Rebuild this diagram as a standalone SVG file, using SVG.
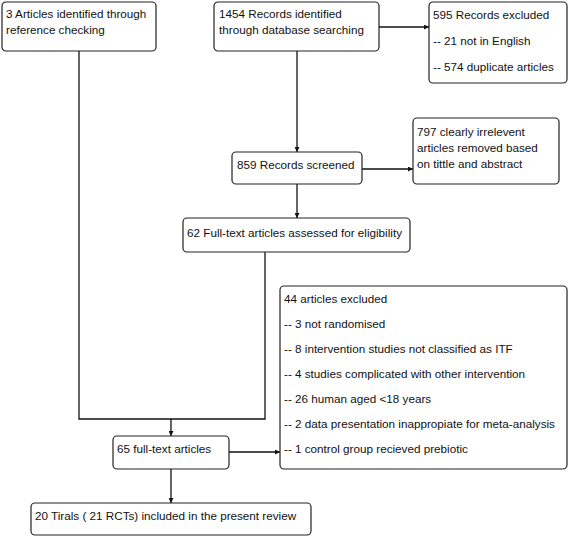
<svg xmlns="http://www.w3.org/2000/svg" width="575" height="538" viewBox="0 0 575 538">
<style>
.box{fill:#fff;stroke:#222;stroke-width:1.2}
text{font-family:"Liberation Sans",Arial,sans-serif;font-size:11.7px;fill:#111}
.ln{fill:none;stroke:#111;stroke-width:1.3}
</style>
<defs>
<marker id="ah" viewBox="0 0 8 8" refX="8" refY="4" markerWidth="5" markerHeight="5" orient="auto" markerUnits="userSpaceOnUse">
<path d="M0,0 L8,4 L0,8 z" fill="#111"/>
</marker>
</defs>
<rect width="575" height="538" fill="#fff"/>
<g id="connectors">
<line class="ln" x1="379" y1="27" x2="429" y2="27" marker-end="url(#ah)"/>
<line class="ln" x1="297" y1="51" x2="297" y2="152" marker-end="url(#ah)"/>
<line class="ln" x1="362" y1="169" x2="413" y2="169" marker-end="url(#ah)"/>
<line class="ln" x1="297" y1="184" x2="297" y2="218" marker-end="url(#ah)"/>
<polyline class="ln" points="79,51 79,419 265,419 265,252"/>
<line class="ln" x1="171" y1="419" x2="171" y2="436" marker-end="url(#ah)"/>
<line class="ln" x1="229" y1="452" x2="280" y2="452" marker-end="url(#ah)"/>
<line class="ln" x1="171" y1="469" x2="171" y2="503" marker-end="url(#ah)"/>
</g>
<g id="n1"><rect class="box" x="2" y="2" width="154" height="49" rx="4"/>
<text x="6" y="18">3 Articles identified through</text><text x="6" y="34">reference checking</text></g>
<g id="n2"><rect class="box" x="214" y="2" width="165" height="49" rx="4"/>
<text x="219" y="18">1454 Records identified</text><text x="219" y="34">through database searching</text></g>
<g id="n3"><rect class="box" x="429" y="2" width="138" height="81" rx="4"/>
<text x="433" y="19">595 Records excluded</text><text x="433" y="45">-- 21 not in English</text><text x="433" y="71">-- 574 duplicate articles</text></g>
<g id="n4"><rect class="box" x="413" y="118" width="146" height="66" rx="4"/>
<text x="417" y="136">797 clearly irrelevent</text><text x="417" y="152">articles removed based</text><text x="417" y="168">on tittle and abstract</text></g>
<g id="n5"><rect class="box" x="232" y="152" width="130" height="32" rx="4"/>
<text x="237" y="169">859 Records screened</text></g>
<g id="n6"><rect class="box" x="183" y="218" width="227" height="34" rx="4"/>
<text x="187" y="237">62 Full-text articles assessed for eligibility</text></g>
<g id="n7"><rect class="box" x="280" y="286" width="287" height="183" rx="4"/>
<text x="284" y="303">44 articles excluded</text>
<text x="284" y="328">-- 3 not randomised</text>
<text x="284" y="353">-- 8 intervention studies not classified as ITF</text>
<text x="284" y="378">-- 4 studies complicated with other intervention</text>
<text x="284" y="403">-- 26 human aged &lt;18 years</text>
<text x="284" y="428">-- 2 data presentation inappropiate for meta-analysis</text>
<text x="284" y="453">-- 1 control group recieved prebiotic</text></g>
<g id="n8"><rect class="box" x="113" y="436" width="116" height="33" rx="4"/>
<text x="117" y="453">65 full-text articles</text></g>
<g id="n9"><rect class="box" x="31" y="503" width="280" height="32" rx="4"/>
<text x="35" y="520">20 Tirals ( 21 RCTs) included in the present review</text></g>
</svg>
